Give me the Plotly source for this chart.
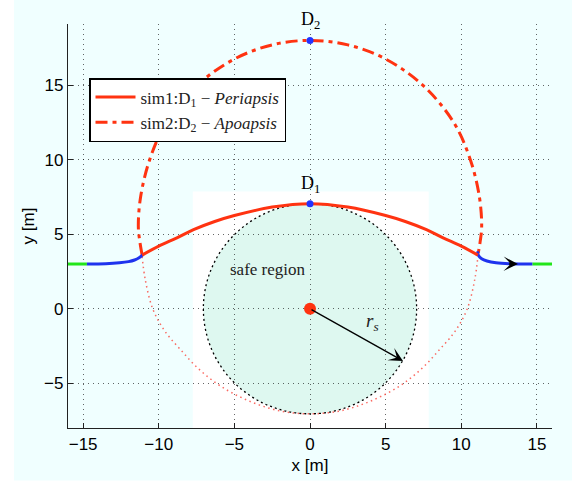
import plotly.graph_objects as go

# ---------------- data ----------------
green_left_x = [-16.0, -14.75]
green_left_y = [3.0, 3.0]
blue_left_x = [-14.75, -13.5, -12.6, -12.0, -11.6, -11.3, -11.1, -11.06]
blue_left_y = [3.0, 3.02, 3.08, 3.16, 3.27, 3.42, 3.58, 3.67]

peri_x = [-11.1, -10.0, -8.8, -7.7, -6.3, -5.0, -2.5, 0.0, 2.5, 5.0, 6.3, 7.7, 8.8, 10.0, 11.1]
peri_y = [3.6, 4.2, 4.75, 5.3, 5.85, 6.25, 6.82, 7.05, 6.82, 6.25, 5.85, 5.3, 4.75, 4.2, 3.6]

blue_right_x = [11.08, 11.15, 11.35, 11.7, 12.3, 13.2, 14.7]
blue_right_y = [3.85, 3.55, 3.35, 3.2, 3.08, 3.02, 3.0]
green_right_x = [14.7, 16.0]
green_right_y = [3.0, 3.0]

apo_x = [-11.1, -11.25, -11.35, -11.2, -10.6, -9.5, -7.45, -5.0, -2.5, 0.0,
         2.5, 5.0, 7.45, 9.5, 10.6, 11.2, 11.35, 11.25, 11.1]
apo_y = [3.6, 4.5, 5.5, 7.5, 10.0, 12.5, 15.0, 16.75, 17.7, 18.0,
         17.7, 16.75, 15.0, 12.5, 10.0, 7.5, 5.5, 4.5, 3.6]

low_x = [-11.1, -10.9, -10.4, -9.6, -8.6, -7.4, -5.9, -4.0, -2.0, 0.0,
         2.0, 4.0, 5.9, 7.4, 8.6, 9.6, 10.4, 10.9, 11.1]
low_y = [3.5, 2.0, 0.0, -1.5, -2.7, -4.0, -5.2, -6.2, -6.85, -7.05,
         -6.85, -6.2, -5.2, -4.0, -2.7, -1.5, 0.0, 2.0, 3.5]

d_points_x = [0.0, 0.0]
d_points_y = [7.05, 18.0]
d_labels = ["D<sub>1</sub>", "D<sub>2</sub>"]

center_x = [0.0]
center_y = [0.0]
safe_radius = 7.05
rs_end = (6.15, -3.5)
traj_arrow_tail = (13.05, 3.01)
traj_arrow_tip = (13.75, 3.0)
white_box = (-7.75, 7.85, -8.0, 7.87)

x_ticks = [-15, -10, -5, 0, 5, 10, 15]
y_ticks = [-5, 0, 5, 10, 15]

# ---------------- styles ----------------
RED = "#ff3311"
BLUE = "#1f33ee"
GREEN = "#22e61a"
DOTBLUE = "#2233ff"
SERIF = "Liberation Serif, Times New Roman, serif"
SANS = "Liberation Sans, Arial, sans-serif"

fig = go.Figure()

fig.add_trace(go.Scatter(x=low_x, y=low_y, mode="lines",
                         line=dict(color="rgba(250,80,70,0.85)", width=1.5, dash="1.5px,3.5px", shape="spline"),
                         showlegend=False, hoverinfo="skip"))
fig.add_trace(go.Scatter(x=apo_x, y=apo_y, mode="lines", name="sim2:D<sub>2</sub> − <i>Apoapsis</i>",
                         line=dict(color=RED, width=3, dash="12px,5px,4px,5px", shape="spline"),
                         legendgroup="g2", legendrank=2))
fig.add_trace(go.Scatter(x=green_left_x, y=green_left_y, mode="lines", line=dict(color=GREEN, width=3), showlegend=False))
fig.add_trace(go.Scatter(x=green_right_x, y=green_right_y, mode="lines", line=dict(color=GREEN, width=3), showlegend=False))
fig.add_trace(go.Scatter(x=blue_left_x, y=blue_left_y, mode="lines", line=dict(color=BLUE, width=3, shape="spline"), showlegend=False))
fig.add_trace(go.Scatter(x=blue_right_x, y=blue_right_y, mode="lines", line=dict(color=BLUE, width=3, shape="spline"), showlegend=False))
fig.add_trace(go.Scatter(x=peri_x, y=peri_y, mode="lines", name="sim1:D<sub>1</sub> − <i>Periapsis</i>",
                         line=dict(color=RED, width=3, shape="spline"), legendgroup="g1", legendrank=1))
fig.add_trace(go.Scatter(x=d_points_x, y=d_points_y, mode="markers", marker=dict(color=DOTBLUE, size=7),
                         showlegend=False))
fig.add_trace(go.Scatter(x=center_x, y=center_y, mode="markers", marker=dict(color=RED, size=12),
                         showlegend=False))

# background & regions
fig.add_shape(type="rect", xref="paper", yref="paper", x0=-0.1116, x1=1.0413, y0=-0.13, y1=1.07,
              fillcolor="#f0ffff", line=dict(width=0), layer="below")
fig.add_shape(type="rect", xref="x", yref="y", x0=white_box[0], x1=white_box[1], y0=white_box[2], y1=white_box[3],
              fillcolor="white", line=dict(width=0), layer="below")
fig.add_shape(type="circle", xref="x", yref="y", x0=-safe_radius, x1=safe_radius, y0=-safe_radius, y1=safe_radius,
              fillcolor="#def8f0", line=dict(color="black", width=1.3, dash="2px,3px"), layer="below")

# annotations
for xv, yv, lab in zip(d_points_x, d_points_y, d_labels):
    fig.add_annotation(x=xv, y=yv, text=lab, showarrow=False, yanchor="bottom", yshift=6,
                       font=dict(family=SERIF, size=18, color="black"))
fig.add_annotation(x=-2.8, y=2.6, text="safe region", showarrow=False,
                   font=dict(family=SERIF, size=17, color="#222"))
fig.add_annotation(x=4.1, y=-0.87, text="<i>r</i><sub><i>s</i></sub>", showarrow=False,
                   font=dict(family=SERIF, size=19, color="#222"))
fig.add_annotation(x=rs_end[0], y=rs_end[1], ax=center_x[0], ay=center_y[0], axref="x", ayref="y",
                   xref="x", yref="y", text="", showarrow=True, arrowhead=3, arrowsize=1.8,
                   arrowwidth=1.3, arrowcolor="black", standoff=0)
fig.add_annotation(x=traj_arrow_tip[0], y=traj_arrow_tip[1], ax=traj_arrow_tail[0], ay=traj_arrow_tail[1],
                   axref="x", ayref="y", xref="x", yref="y", text="", showarrow=True, arrowhead=3,
                   arrowsize=1.6, arrowwidth=1.5, arrowcolor="black", standoff=0)

axis_common = dict(showline=True, linecolor="#222", linewidth=1.3, ticks="inside", ticklen=5,
                   tickcolor="#222", showgrid=True, gridcolor="rgba(0,0,0,0.6)", griddash="1px,4px",
                   gridwidth=1, zeroline=False, tickfont=dict(family=SANS, size=17, color="black"),
                   mirror=False)
fig.update_xaxes(range=[-16, 16], tickvals=x_ticks, title=dict(text="x [m]", font=dict(family=SANS, size=17, color="black"), standoff=6),
                 **axis_common)
fig.update_yaxes(range=[-8, 19.1], tickvals=y_ticks, title=dict(text="y [m]", font=dict(family=SANS, size=17, color="black"), standoff=5),
                 **axis_common)

fig.update_layout(
    width=579, height=483,
    margin=dict(l=68, r=27, t=24, b=51),
    paper_bgcolor="white", plot_bgcolor="rgba(0,0,0,0)",
    showlegend=True,
    legend=dict(x=0.0434, y=0.787, xanchor="left", yanchor="middle", bgcolor="white",
                bordercolor="black", borderwidth=1.5, font=dict(family=SERIF, size=17, color="#222"),
                tracegroupgap=0, traceorder="grouped", itemwidth=40),
)

fig.write_html("out.html")
